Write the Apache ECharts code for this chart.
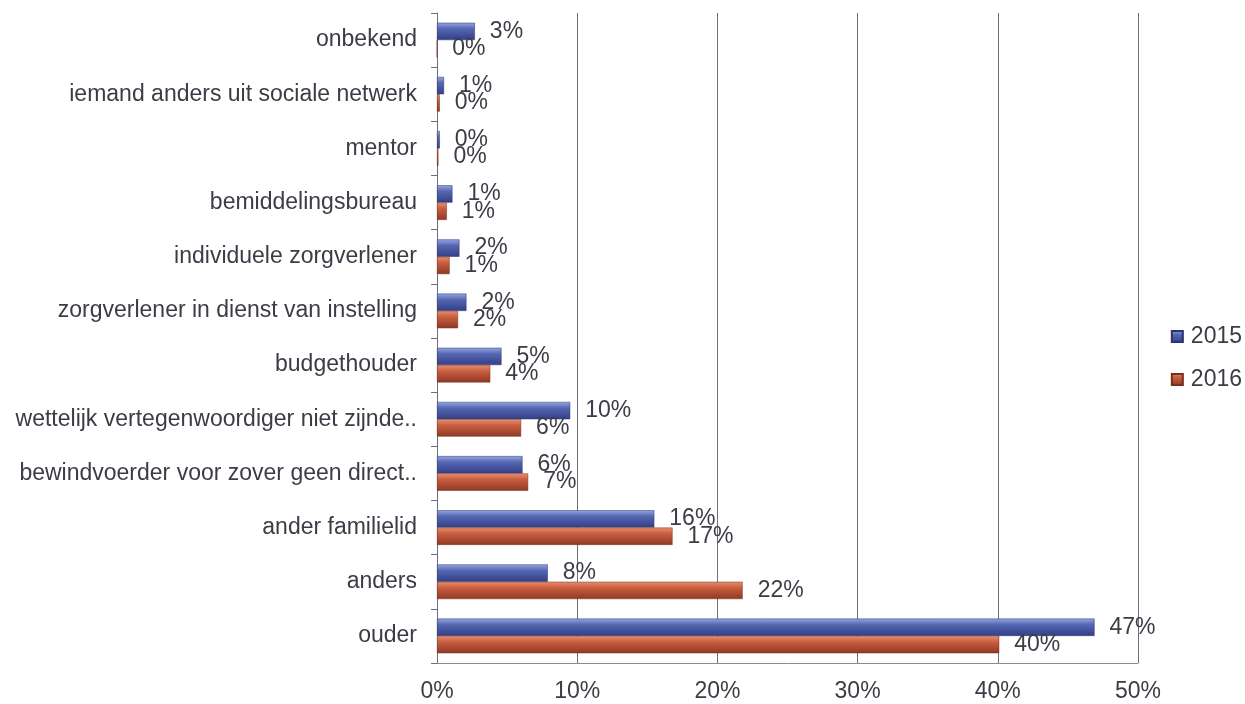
<!DOCTYPE html>
<html>
<head>
<meta charset="utf-8">
<script src="https://cdn.jsdelivr.net/npm/echarts@6/dist/echarts.min.js"></script>
<style>
html,body{margin:0;padding:0;background:#fff;}
#chart{width:1245px;height:704px;}
</style>
</head>
<body>
<div id="chart"></div>
<script>
// categories listed bottom to top
var categories = [
  'ouder',
  'anders',
  'ander familielid',
  'bewindvoerder voor zover geen direct..',
  'wettelijk vertegenwoordiger niet zijnde..',
  'budgethouder',
  'zorgverlener in dienst van instelling',
  'individuele zorgverlener',
  'bemiddelingsbureau',
  'mentor',
  'iemand anders uit sociale netwerk',
  'onbekend'
];
var values2015 = [46.9, 7.9, 15.5, 6.1, 9.5, 4.6, 2.1, 1.6, 1.1, 0.2, 0.5, 2.7];
var values2016 = [40.1, 21.8, 16.8, 6.5, 6.0, 3.8, 1.5, 0.9, 0.7, 0.1, 0.2, 0.0];
var xTicks = [0, 10, 20, 30, 40, 50];

var FONT = 'Liberation Sans, Arial, sans-serif';
var FS = 23;
var TXT = '#3c3c46';
var chart = echarts.init(document.getElementById('chart'));

function grad(c1, c2, c3) {
  return new echarts.graphic.LinearGradient(0, 0, 0, 1, [
    {offset: 0, color: c1},
    {offset: 0.35, color: c2},
    {offset: 1, color: c3}
  ]);
}

var labelStyle = {
  show: true,
  position: 'right',
  distance: 15,
  fontFamily: FONT,
  fontSize: FS,
  color: TXT,
  formatter: function (p) { return Math.round(p.value) + '%'; }
};

chart.setOption({
  animation: false,
  backgroundColor: '#ffffff',
  grid: {left: 437, right: 107, top: 13, bottom: 41},
  legend: {
    orient: 'vertical',
    right: 3,
    top: 325,
    padding: 0,
    itemWidth: 11,
    itemHeight: 11,
    itemGap: 20,
    icon: 'rect',
    textStyle: {fontFamily: FONT, fontSize: FS, color: TXT, padding: [0, 0, 0, 3]},
    data: ['2015', '2016']
  },
  xAxis: {
    type: 'value',
    min: xTicks[0],
    max: xTicks[xTicks.length - 1],
    interval: 10,
    axisLine: {show: true, lineStyle: {color: '#8a8a96'}},
    axisTick: {show: false},
    axisLabel: {
      fontFamily: FONT, fontSize: FS, color: TXT, margin: 17,
      formatter: '{value}%'
    },
    splitLine: {show: true, lineStyle: {color: '#6e6e80', width: 1}}
  },
  yAxis: {
    type: 'category',
    data: categories,
    axisLine: {show: true, lineStyle: {color: '#6e6e80'}},
    axisTick: {show: true, length: 6, alignWithLabel: false, lineStyle: {color: '#6e6e80'}},
    axisLabel: {fontFamily: FONT, fontSize: FS, color: TXT, margin: 20}
  },
  series: [
    {
      name: '2015',
      type: 'bar',
      data: values2015,
      barGap: '0%',
      barCategoryGap: '36%',
      itemStyle: {color: grad('#97a6e2', '#5667b2', '#323e88'), borderColor: '#2a3470', borderWidth: 0.5},
      label: labelStyle
    },
    {
      name: '2016',
      type: 'bar',
      data: values2016,
      barGap: '0%',
      barCategoryGap: '36%',
      itemStyle: {color: grad('#ea9070', '#c85e3f', '#903824'), borderColor: '#7a2e1c', borderWidth: 0.5},
      label: labelStyle
    }
  ]
});
</script>
</body>
</html>
